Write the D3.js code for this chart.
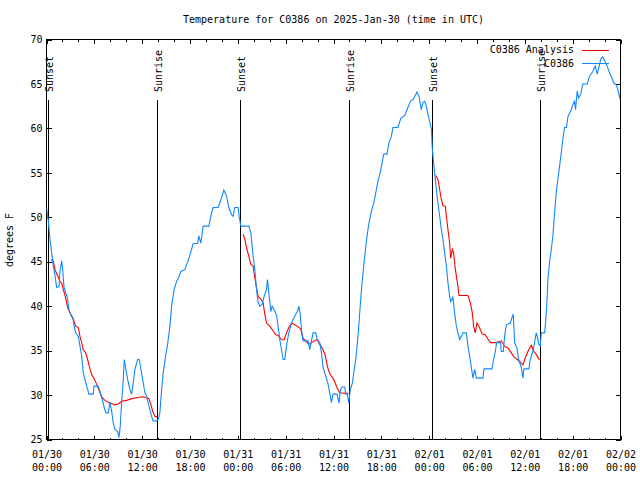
<!DOCTYPE html>
<html><head><meta charset="utf-8">
<script src="https://cdn.jsdelivr.net/npm/d3@7"></script>
<style>
body{margin:0;background:#fff;}
svg text{font-family:"DejaVu Sans Mono","Liberation Mono",monospace;font-size:10px;fill:#000;}
</style></head><body>
<svg id="c" width="640" height="480"></svg>
<script>
// ---------- data ----------
const chartTitle = "Temperature for C0386 on 2025-Jan-30 (time in UTC)";
const yAxisLabel = "degrees F";
const seriesNames = ["C0386 Analysis", "C0386"];
const seriesColors = ["#ff0000", "#1088ff"];
const yTickValues = [25, 30, 35, 40, 45, 50, 55, 60, 65, 70];
const xMajorHours = [0, 6, 12, 18, 24, 30, 36, 42, 48, 54, 60, 66, 72];
const xMinorHours = [2, 4, 8, 10, 14, 16, 20, 22, 26, 28, 32, 34, 38, 40, 44, 46, 50, 52, 56, 58, 62, 64, 68, 70];
const startDateUTC = [2025, 0, 30];
const eventHours = [0.19, 13.89, 24.25, 37.95, 48.35, 61.89];
const eventLabels = ["Sunset", "Sunrise", "Sunset", "Sunrise", "Sunset", "Sunrise"];

// observed station temps [hours since start, deg F]
const observed = [
[0,51.1],[0.23,49.6],[0.44,47.5],[0.65,46],[0.85,44.5],[1.07,43.4],[1.28,42.1],[1.57,42.2],[1.69,43.9],[1.91,45.1],
[2.03,44.1],[2.19,42.2],[2.41,41.5],[2.61,41],[2.82,39.6],[3.03,39],[3.32,38.7],[3.48,37.7],[3.66,37],[3.99,36.6],
[4.20,35.5],[4.41,34.4],[4.61,32.5],[4.83,31.75],[5.04,31],[5.33,30.1],[5.87,30.1],[5.95,31],[6.49,31],[6.71,30.4],
[6.99,29.5],[7.24,28.6],[7.46,28],[7.75,28],[7.96,29.2],[8.17,28.2],[8.37,26.9],[8.59,26.1],[8.92,25.9],[9.09,25.2],
[9.25,26.5],[9.42,29.1],[9.63,31.75],[9.75,34],[9.96,32.9],[10.18,31.75],[10.47,30.6],[10.68,30.1],[10.88,31.4],[11.09,32.9],
[11.43,34],[11.63,34],[11.84,32.9],[12.13,31.4],[12.34,30.25],[12.56,29.9],[12.76,29.1],[12.97,28.4],[13.18,27.6],[13.38,27.1],
[13.81,27.1],[14.01,27.25],[14.22,28],[14.44,30.6],[14.64,32.5],[14.94,34.4],[15.19,35.7],[15.48,37.75],[15.69,40],[16.02,41.9],
[16.32,42.8],[16.52,43.1],[16.86,43.9],[17.36,44.1],[17.57,44.7],[17.77,45.1],[18.20,46.4],[18.40,47.05],[18.95,47.05],[19.11,47.9],
[19.36,47.1],[19.65,49],[20.37,49],[20.70,50.5],[20.91,51.1],[21.53,51.1],[21.96,52.2],[22.25,53.05],[22.58,52.4],[22.87,51.1],
[23.21,50.3],[23.41,50.1],[23.62,51.1],[24.04,51.1],[24.16,50.1],[24.38,49],[25.38,49],[25.63,48.25],[25.92,45.6],[26.13,44.1],
[26.34,41.9],[26.54,40.4],[26.76,40],[27.05,40.2],[27.30,41.1],[27.60,41.9],[27.72,43],[27.89,41.5],[28.14,39.4],[28.30,40],
[28.55,39.6],[28.85,39],[29.05,37.75],[29.26,36.25],[29.48,35.1],[29.68,34],[29.89,34],[30.10,35.5],[30.39,37],[30.73,38.1],
[31.14,38.9],[31.48,39.4],[31.65,40],[31.81,39.25],[31.98,37.4],[32.18,36.1],[32.81,36.1],[33.02,35.1],[33.24,36.1],[33.44,37],
[33.78,37],[33.99,36.1],[34.28,35.9],[34.49,34.75],[34.69,33.1],[34.90,32.5],[35.12,31.9],[35.32,31.2],[35.53,30.25],[35.74,29.15],
[35.94,30.1],[36.45,30.1],[36.70,29.1],[36.87,30.6],[37.07,30.9],[37.41,30.9],[37.54,30.1],[37.75,30.1],[37.91,29.1],[38.12,30.6],
[38.38,31.4],[38.54,32.5],[38.79,34],[39.00,35.9],[39.20,38.1],[39.38,40.4],[39.58,42.6],[39.79,44.5],[40.01,46.4],[40.26,48.25],
[40.46,49.4],[40.76,50.7],[41.05,51.6],[41.30,52.75],[41.58,54.1],[41.80,54.8],[42.09,56.1],[42.30,57.1],[42.71,57.1],[42.96,58.4],
[43.26,59.1],[43.46,60.1],[44.09,60.1],[44.43,61.1],[44.93,61.45],[45.22,62.1],[45.64,63.05],[45.97,63.25],[46.18,63.55],[46.47,64.1],
[46.72,63.6],[47.02,62.1],[47.22,62.9],[47.44,63.05],[47.65,62.5],[47.85,61.6],[48.06,60.8],[48.28,59.9],[48.40,57.6],[48.57,56.1],
[48.73,54.6],[48.90,53.1],[49.10,51.6],[49.32,50.1],[49.53,48.6],[49.73,47.5],[49.94,46],[50.16,44.5],[50.36,42.6],[50.57,41.1],
[50.70,40.5],[50.98,41],[51.19,39.25],[51.41,37.75],[51.61,37],[51.82,36.25],[52.04,36.6],[52.24,37],[52.66,37],[52.86,35.5],
[53.08,34.4],[53.29,33.1],[53.49,31.9],[53.70,32.9],[53.92,31.9],[54.74,31.9],[54.87,32.95],[55.87,32.95],[56.09,34],[56.30,34.9],
[56.46,35.9],[56.96,35.9],[57.05,34.9],[57.30,34.9],[57.46,36.6],[57.68,37.9],[58.18,38.1],[58.38,38.7],[58.55,39.1],[58.72,35.9],
[59.01,35.3],[59.22,34],[59.56,33.1],[59.76,31.9],[59.88,32.95],[60.51,32.95],[60.68,34],[61.01,34.9],[61.22,35.9],[61.43,37],
[61.56,36.6],[61.76,35.7],[61.94,35.5],[62.06,37],[62.48,37],[62.60,38.1],[62.77,40.4],[62.89,43],[63.10,44.9],[63.32,46.4],
[63.52,47.9],[63.73,50.5],[63.94,52.75],[64.14,54.25],[64.36,55.75],[64.57,57.25],[64.77,58.75],[64.98,60.1],[65.23,60.1],[65.40,61.3],
[65.61,61.7],[65.82,62.1],[66.02,62.7],[66.24,63.05],[66.36,62.1],[66.57,64.2],[66.74,63.4],[66.99,63.8],[67.28,65],[67.83,65],
[68.12,65.9],[68.53,66.4],[68.83,67],[69.08,66.1],[69.37,67.2],[69.58,67.9],[69.78,68.05],[70.00,67.6],[70.33,67],[70.62,66.25],
[70.91,65.7],[71.16,65.1],[71.46,64.9],[71.66,64.4],[71.96,63.25]
];

// analysis temps [hours since start, deg F]; null separates the evening runs
const analysis = [
[0.56,45.2],[0.85,45.1],[1.07,44.1],[1.40,43.4],[1.69,42.8],[1.91,42.6],[2.11,41.9],[2.41,40.9],[2.66,39.8],[2.95,39.25],
[3.16,38.9],[3.45,38.3],[3.66,37.75],[3.99,37.6],[4.20,36.6],[4.41,35.9],[4.61,35.1],[4.91,34.75],[5.16,34],[5.36,33.25],
[5.66,32.3],[5.95,31.9],[6.20,31.4],[6.49,30.8],[6.71,30.25],[6.99,29.7],[7.33,29.4],[7.75,29.2],[8.17,29.05],[8.59,28.9],
[9.00,29],[9.42,29.3],[10.05,29.4],[10.68,29.6],[11.30,29.7],[11.93,29.8],[12.34,29.75],[12.85,29.6],[13.10,28.95],[13.31,28.2],
[13.60,27.6],[13.94,27.55],
[14.5,null],
[24.66,48.1],[24.88,47.5],[25.09,46.6],[25.38,45.6],[25.63,44.7],[25.92,44.5],[26.13,43.2],[26.34,42.1],[26.54,41.1],[26.88,40.8],
[27.17,40.4],[27.38,39.1],[27.60,38.1],[28.01,37.75],[28.43,37.2],[28.73,36.8],[29.05,36.7],[29.48,36.25],[29.80,36.2],[30.10,37],
[30.39,37.6],[30.73,38.1],[31.14,37.9],[31.56,37.7],[31.90,37.4],[32.18,36.4],[32.49,36.1],[32.90,35.7],[33.24,35.9],[33.65,36.1],
[33.99,36.25],[34.28,35.7],[34.69,35.1],[34.99,34.4],[35.24,33.2],[35.41,32.7],[35.66,32.2],[35.94,31.9],[36.16,31.5],[36.45,30.8],
[36.78,30.25],[37.20,30.2],[37.90,30.2],
[38.5,null],
[48.82,54.7],[49.10,54.25],[49.32,53.1],[49.53,52],[49.73,51.3],[50.03,51.25],[50.16,50.1],[50.36,48.6],[50.57,47.1],[50.70,45.4],
[50.91,46.4],[51.07,46],[51.23,44.5],[51.41,43.4],[51.61,42.25],[51.74,41.2],[52.86,41.2],[53.16,40.4],[53.41,39.25],[53.58,37.75],
[53.79,37],[53.99,38.1],[54.24,37.75],[54.62,36.9],[55.04,36.8],[55.37,36.3],[55.71,35.9],[56.42,35.9],[57.05,36.1],[57.46,35.5],
[57.88,35.3],[58.30,34.75],[58.63,34.3],[59.05,34],[59.56,33.6],[59.76,33.4],[60.06,34.2],[60.38,34.9],[60.81,35.6],[61.14,34.9],
[61.44,34.55],[61.73,34.1],[61.98,33.9]
];

// ---------- drawing ----------
const svg = d3.select("#c");
const W = 640, H = 480;
const plotL = 46.5, plotR = 620.5, plotT = 39.5, plotB = 439.5;

const t0 = Date.UTC(startDateUTC[0], startDateUTC[1], startDateUTC[2]);
const toDate = h => new Date(t0 + h * 3600e3);

const x = d3.scaleUtc().domain([toDate(0), toDate(72)]).range([plotL, plotR]);
const y = d3.scaleLinear().domain([25, 70]).range([plotB, plotT]);

svg.append("rect").attr("width", W).attr("height", H).attr("fill", "#fff");

// title
svg.append("text").attr("x", (plotL + plotR) / 2).attr("y", 23)
  .attr("text-anchor", "middle").text(chartTitle);

// y label
svg.append("text").attr("transform", "translate(13,240) rotate(-90)")
  .attr("text-anchor", "middle").text(yAxisLabel);

// axes
const fmtDate = d3.utcFormat("%m/%d"), fmtTime = d3.utcFormat("%H:%M");

const gxb = svg.append("g").attr("transform", `translate(0,${plotB})`)
  .call(d3.axisBottom(x).tickValues(xMajorHours.map(toDate)).tickSizeInner(-4).tickSizeOuter(0).tickFormat(""));
gxb.selectAll(".tick text").each(function(d) {
  const t = d3.select(this).attr("y", null).attr("dy", null);
  t.append("tspan").attr("x", 0).attr("y", 18.5).text(fmtDate(d));
  t.append("tspan").attr("x", 0).attr("y", 31.5).text(fmtTime(d));
});
svg.append("g").attr("transform", `translate(0,${plotB})`)
  .call(d3.axisBottom(x).tickValues(xMinorHours.map(toDate)).tickSizeInner(-2).tickSizeOuter(0).tickFormat(""));
svg.append("g").attr("transform", `translate(0,${plotT})`)
  .call(d3.axisTop(x).tickValues(xMajorHours.map(toDate)).tickSizeInner(-4).tickSizeOuter(0).tickFormat(""));
svg.append("g").attr("transform", `translate(0,${plotT})`)
  .call(d3.axisTop(x).tickValues(xMinorHours.map(toDate)).tickSizeInner(-2).tickSizeOuter(0).tickFormat(""));

svg.append("g").attr("transform", `translate(${plotL},0)`)
  .call(d3.axisLeft(y).tickValues(yTickValues).tickSizeInner(-5).tickSizeOuter(0).tickPadding(4).tickFormat(d3.format("d")));
svg.append("g").attr("transform", `translate(${plotR},0)`)
  .call(d3.axisRight(y).tickValues(yTickValues).tickSizeInner(-5).tickSizeOuter(0).tickFormat(""));

svg.selectAll(".domain").remove();
svg.selectAll(".tick line").attr("stroke", "#000").attr("shape-rendering", "crispEdges");
svg.selectAll("g").attr("font-family", null).attr("font-size", null);
svg.selectAll(".tick text").attr("fill", "#000");

// frame
svg.append("rect").attr("x", plotL).attr("y", plotT).attr("width", plotR - plotL).attr("height", plotB - plotT)
  .attr("fill", "none").attr("stroke", "#000").attr("shape-rendering", "crispEdges");

// event lines
const ev = svg.append("g");
eventHours.forEach((h, i) => {
  const ex = Math.round(x(toDate(h))) + 0.5;
  ev.append("line").attr("x1", ex).attr("x2", ex).attr("y1", 99.5).attr("y2", plotB)
    .attr("stroke", "#000").attr("shape-rendering", "crispEdges");
  ev.append("text").attr("transform", `translate(${ex + 4.5},92) rotate(-90)`)
    .attr("text-anchor", "start").text(eventLabels[i]);
});

// series
const line = d3.line()
  .defined(d => d[1] != null)
  .x(d => x(toDate(d[0])))
  .y(d => y(d[1]));

svg.append("clipPath").attr("id", "clip").append("rect")
  .attr("x", plotL).attr("y", plotT).attr("width", plotR - plotL).attr("height", plotB - plotT);

svg.append("path").datum(analysis).attr("d", line).attr("fill", "none")
  .attr("stroke", seriesColors[0]).attr("stroke-width", 1.1).attr("clip-path", "url(#clip)");
svg.append("path").datum(observed).attr("d", line).attr("fill", "none")
  .attr("stroke", seriesColors[1]).attr("stroke-width", 1.1).attr("clip-path", "url(#clip)");

// legend
const lg = svg.append("g");
seriesNames.forEach((n, i) => {
  const ly = 49.5 + i * 13.5;
  lg.append("text").attr("x", 574).attr("y", ly + 3.5).attr("text-anchor", "end").text(n);
  lg.append("line").attr("x1", 582).attr("x2", 609).attr("y1", Math.round(ly) + 0.5).attr("y2", Math.round(ly) + 0.5)
    .attr("stroke", seriesColors[i]).attr("shape-rendering", "crispEdges");
});
</script>
</body></html>
